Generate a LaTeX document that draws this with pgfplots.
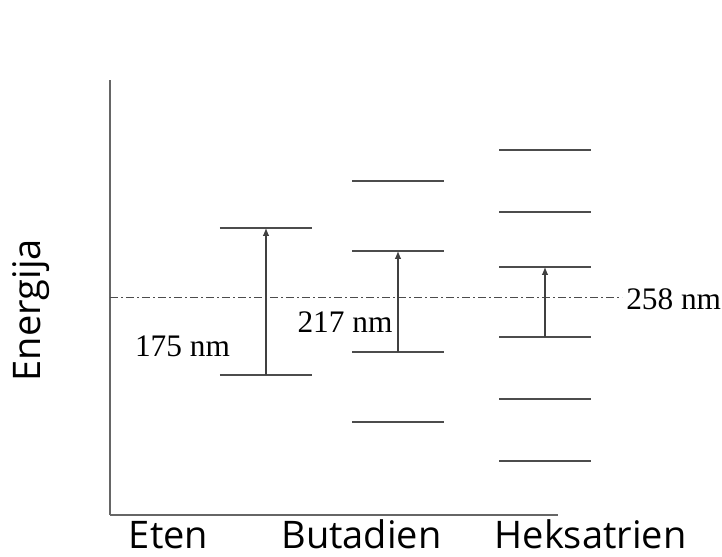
\documentclass[border=0pt]{standalone}
\usepackage{fontspec}
\setmainfont{Liberation Serif}
\newfontfamily\labelfont{Open Sans}
\usepackage{pgfplots}
\pgfplotsset{compat=1.18}
\usetikzlibrary{arrows.meta}
\begin{document}
\begin{tikzpicture}
\begin{axis}[
  scale only axis,
  width=336pt, height=326.25pt,
  xmin=110, xmax=558, ymin=0, ymax=435,
  axis x line=bottom, axis y line=left,
  axis line style={-, black!60, line width=0.9pt},
  ytick=\empty,
  xtick={168.5,361.5},
  xticklabels={Eten,Butadien},
  extra x ticks={510},
  extra x tick labels={Heksatrien},
  extra x tick style={xticklabel style={xshift=60.4pt}},
  major tick length=0pt,
  xticklabel style={font=\labelfont\fontsize{28.5}{32}\selectfont, anchor=base, inner sep=0pt, text depth=0pt, yshift=-25pt},
  ylabel={Energija},
  ylabel style={font=\labelfont\fontsize{28.5}{32}\selectfont, at={(axis description cs:-0.156,0.471)}, anchor=base},
  clip=false,
  unbounded coords=jump,
]
% energy levels
\addplot[black!70, line width=0.9pt] coordinates {
  (220,287) (312,287) (nan,nan)
  (220,140) (312,140) (nan,nan)
  (352,334) (444,334) (nan,nan)
  (352,264) (444,264) (nan,nan)
  (352,163) (444,163) (nan,nan)
  (352,93) (444,93) (nan,nan)
  (499,365) (591,365) (nan,nan)
  (499,303) (591,303) (nan,nan)
  (499,248) (591,248) (nan,nan)
  (499,178) (591,178) (nan,nan)
  (499,116) (591,116) (nan,nan)
  (499,54) (591,54)
};
% reference level
\addplot[black!70, line width=0.7pt, dash pattern=on 6pt off 2.5pt on 1pt off 2.5pt] coordinates {(110,218) (622,218)};
% transitions
\addplot[black!75, line width=0.8pt, -{Latex[length=6pt,width=5pt]}] coordinates {(266,140) (266,287)};
\addplot[black!75, line width=0.8pt, -{Latex[length=6pt,width=5pt]}] coordinates {(398,163) (398,264)};
\addplot[black!75, line width=0.8pt, -{Latex[length=6pt,width=5pt]}] coordinates {(545,178) (545,248)};
\node[font=\fontsize{23.5}{26}\selectfont, anchor=base] at (axis cs:182.5,158) {175 nm};
\node[font=\fontsize{23.5}{26}\selectfont, anchor=base] at (axis cs:345,182) {217 nm};
\node[font=\fontsize{23.5}{26}\selectfont, anchor=base west, inner sep=0pt] at (axis cs:626,205) {258 nm};
\path[use as bounding box] (axis cs:0,-42) rectangle (axis cs:722,515);
\end{axis}
\end{tikzpicture}
\end{document}
